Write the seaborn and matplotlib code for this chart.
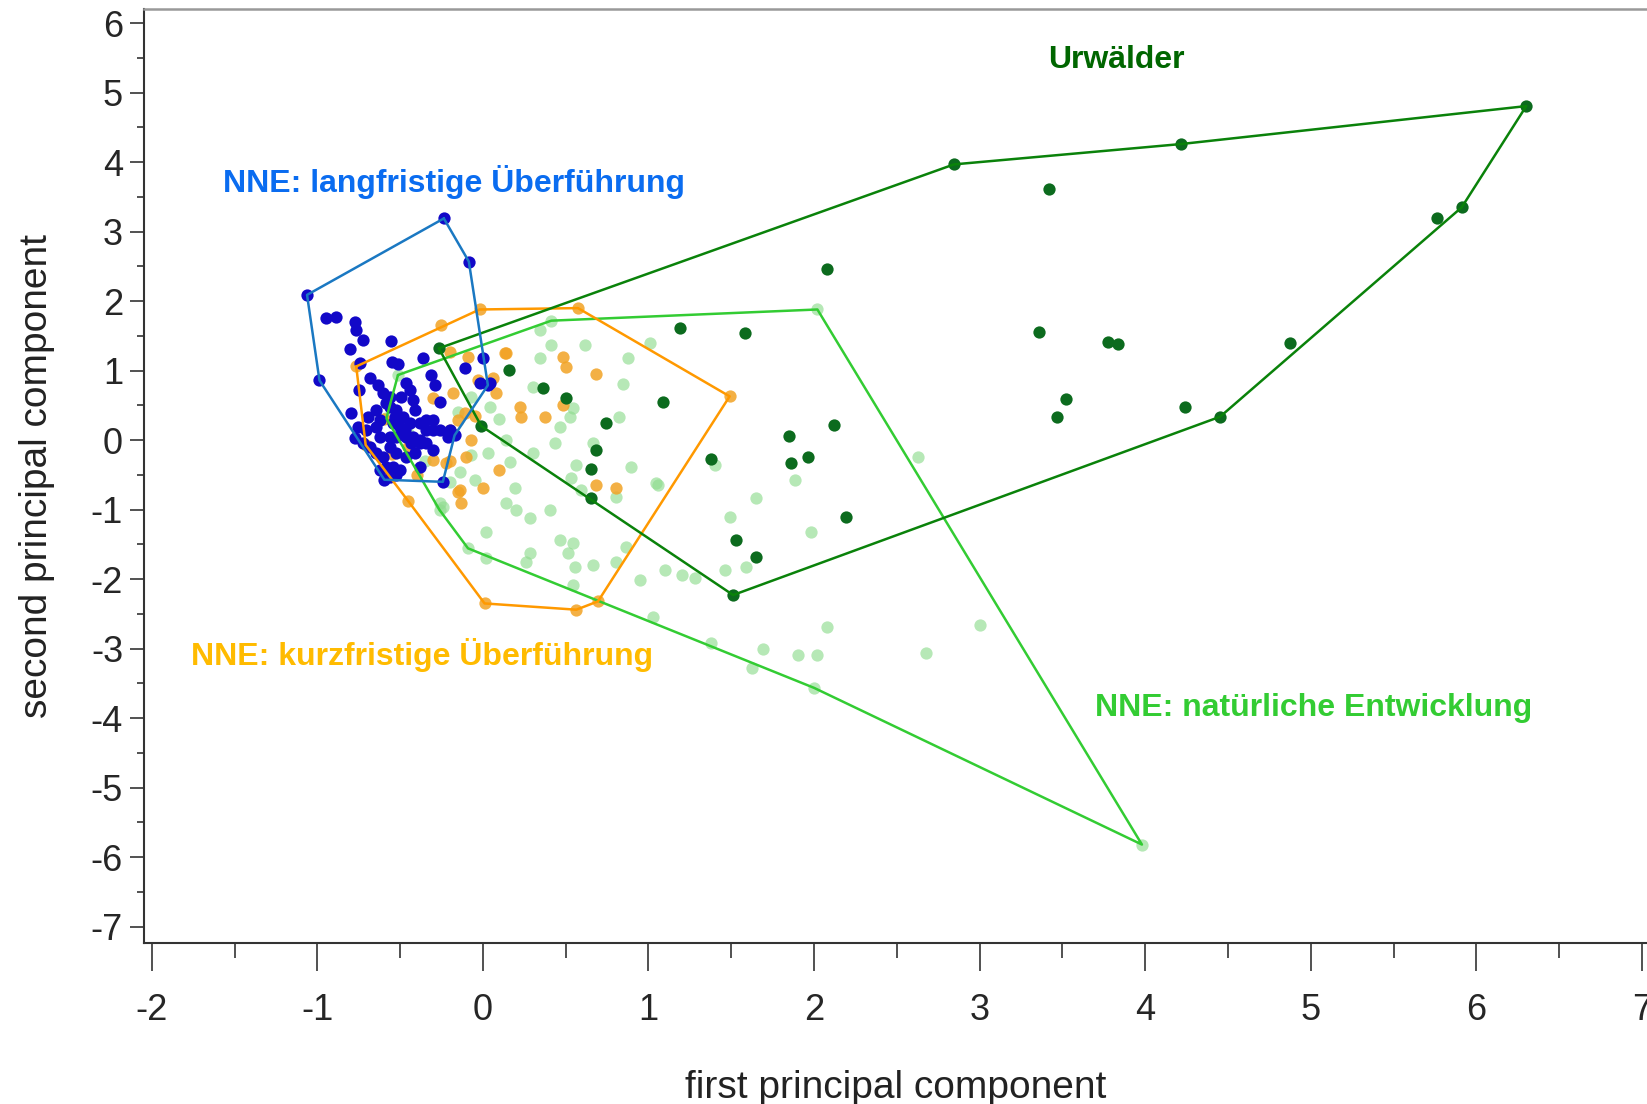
import numpy as np
import pandas as pd
import matplotlib
matplotlib.use("Agg")
import matplotlib.pyplot as plt
from matplotlib.ticker import MultipleLocator
import seaborn as sns

# NNE: langfristige Überführung (blau)
blue_x = [-0.946, -0.886, -0.775, -0.769, -0.724, -0.805, -0.553, -0.547, -0.513, -0.745,
          -0.362, -0.11, 0.0, -0.312, -0.291, -0.02, 0.041, -0.749, -0.684, -0.634,
          -0.604, -0.563, -0.463, -0.443, -0.422, -0.412, -0.795, -0.694, -0.644, -0.563,
          -0.523, -0.483, -0.543, -0.503, -0.443, -0.382, -0.342, -0.301, -0.261, -0.755,
          -0.704, -0.644, -0.624, -0.563, -0.523, -0.463, -0.422, -0.382, -0.342, -0.301,
          -0.2, -0.775, -0.684, -0.644, -0.604, -0.583, -0.543, -0.503, -0.463, -0.412,
          -0.382, -0.301, -0.624, -0.563, -0.523, -0.382, -0.583, -0.533, -0.473, -0.432,
          -0.523, -0.563, -0.493, -0.624, -0.724, -0.342, -0.261, -0.211]
blue_y = [1.752, 1.776, 1.704, 1.585, 1.441, 1.306, 1.426, 1.129, 1.095, 1.105,
          1.177, 1.033, 1.177, 0.937, 0.793, 0.827, 0.817, 0.721, 0.889, 0.793,
          0.673, 0.625, 0.817, 0.721, 0.577, 0.433, 0.385, 0.338, 0.433, 0.481,
          0.433, 0.338, 0.242, 0.194, 0.242, 0.242, 0.29, 0.29, 0.553, 0.194,
          0.146, 0.194, 0.05, 0.05, 0.05, 0.05, 0.05, 0.002, -0.046, 0.146,
          0.146, 0.026, -0.094, -0.19, -0.238, -0.382, -0.382, -0.43, -0.238, -0.19,
          -0.046, -0.142, -0.43, -0.526, -0.502, -0.382, 0.529, 0.338, 0.146, -0.046,
          -0.19, -0.094, 0.625, 0.29, -0.046, 0.146, 0.146, 0.05]
blue_hull_x = [-0.236, -0.085, 0.03, -0.171, -0.242, -0.595, -0.987, -1.062]
blue_hull_y = [3.19, 2.57, 0.79, 0.07, -0.60, -0.57, 0.86, 2.09]

# NNE: kurzfristige Überführung (orange)
orange_x = [-0.252, -0.201, -0.09, 0.131, 0.484, 0.504, 0.685, 0.06, 0.08, -0.181,
            0.222, 0.232, 0.373, 0.484, -0.11, -0.15, -0.07, -0.1, -0.302, -0.22,
            0.1, 0.0, -0.14, -0.13, 0.685, 0.806, -0.2, -0.03, 0.142, -0.15,
            -0.55, -0.4, -0.3, -0.2, -0.05, -0.6, -0.45]
orange_y = [1.657, 1.273, 1.2, 1.258, 1.201, 1.057, 0.951, 0.89, 0.673, 0.673,
            0.481, 0.338, 0.338, 0.505, 0.386, 0.29, 0.0, -0.238, -0.286, -0.33,
            -0.43, -0.69, -0.72, -0.91, -0.646, -0.69, 0.146, 0.865, 1.249, -0.75,
            -0.2, -0.5, 0.6, -0.3, 0.35, 0.3, -0.1]
orange_hull_x = [-0.765, -0.708, -0.45, 0.01, 0.564, 0.695, 1.49, 0.574, -0.02]
orange_hull_y = [1.06, -0.07, -0.88, -2.35, -2.44, -2.32, 0.63, 1.90, 1.88]

# NNE: natürliche Entwicklung (hellgrün)
lgreen_x = [0.343, 0.413, 0.614, 0.343, 0.876, 1.007, 0.846, 0.302, -0.07, 0.04,
            0.464, 0.524, 0.544, 0.433, 0.141, 0.302, -0.07, 0.03, 0.161, -0.141,
            -0.05, 0.564, 0.534, 0.665, 0.897, 1.048, 0.191, 0.141, 0.2, 0.282,
            0.403, 0.806, 0.594, 0.02, 0.464, 0.544, 0.514, 0.282, 0.262, 0.554,
            0.665, 0.806, 0.866, 0.947, 1.098, 1.2, 1.279, 1.46, 1.49, 1.591,
            1.648, 1.883, 0.544, 1.028, 0.02, -0.26, -0.24, 1.4, 1.984, 2.628,
            1.38, 2.075, 3.0, 1.69, 1.623, 1.902, 2.017, 2.676, 1.057, 0.824,
            -0.35, -0.2, -0.45, -0.15, 0.1]
lgreen_y = [1.585, 1.369, 1.369, 1.177, 1.177, 1.393, 0.808, 0.769, 0.625, 0.481,
            0.194, 0.338, 0.458, -0.046, 0.0, -0.19, -0.214, -0.19, -0.31, -0.454,
            -0.574, -0.358, -0.55, -0.046, -0.382, -0.622, -0.694, -0.91, -1.005, -1.125,
            -1.005, -0.814, -0.718, -1.317, -1.437, -1.485, -1.629, -1.629, -1.749, -1.821,
            -1.797, -1.749, -1.533, -2.013, -1.869, -1.941, -1.989, -1.869, -1.101, -1.821,
            -0.838, -0.574, -2.085, -2.54, -1.7, -0.91, -0.96, -0.358, -1.318, -0.238,
            -2.924, -2.685, -2.66, -3.0, -3.278, -3.097, -3.097, -3.067, -0.646, 0.332,
            -0.3, -0.6, 0.1, 0.4, 0.3]
lgreen_hull_x = [-0.513, 0.413, 2.02, 3.98, 2.0, -0.09, -0.262, -0.583]
lgreen_hull_y = [0.937, 1.719, 1.88, -5.82, -3.565, -1.557, -1.005, 0.314]

# Urwälder (dunkelgrün)
dgreen_x = [0.157, 0.363, 0.504, 1.188, 1.581, 1.088, 0.745, 0.685, 0.655, 0.655,
            1.38, 1.849, 1.863, 1.964, 2.121, 2.195, 1.527, 1.648, 2.075, 5.764,
            3.42, 3.358, 3.773, 3.837, 4.873, 3.521, 3.469, 4.237]
dgreen_y = [1.009, 0.745, 0.601, 1.609, 1.537, 0.553, 0.242, -0.142, -0.42, -0.837,
            -0.276, 0.059, -0.324, -0.238, 0.217, -1.102, -1.437, -1.677, 2.457, 3.19,
            3.608, 1.56, 1.416, 1.383, 1.393, 0.591, 0.328, 0.472]
dgreen_hull_x = [-0.266, 2.845, 4.213, 6.301, 5.911, 4.452, 1.511, -0.01]
dgreen_hull_y = [1.321, 3.968, 4.26, 4.807, 3.35, 0.337, -2.229, 0.203]

sns.set_style("ticks")
plt.rcParams["font.family"] = ["Liberation Sans", "DejaVu Sans"]
plt.rcParams["axes.unicode_minus"] = False

fig = plt.figure(figsize=(16.47, 11.04), dpi=100)
ax = fig.add_axes([0.0874, 0.1456, 0.9126, 0.846])

groups = [
    (lgreen_x, lgreen_y, lgreen_hull_x, lgreen_hull_y, "#8fdc8f", 0.65, "#33cc33"),
    (orange_x, orange_y, orange_hull_x, orange_hull_y, "#f2a324", 0.85, "#ff9900"),
    (dgreen_x, dgreen_y, dgreen_hull_x, dgreen_hull_y, "#0c6b1e", 1.0, "#0a820a"),
    (blue_x, blue_y, blue_hull_x, blue_hull_y, "#1208c8", 1.0, "#1a78c2"),
]

# punkte
for px, py, hx, hy, col, a, lcol in groups:
    df = pd.DataFrame({"x": px + hx, "y": py + hy})
    sns.scatterplot(data=df, x="x", y="y", color=col, alpha=a, s=78,
                    linewidth=0, ax=ax, legend=False)

# umrisse
for px, py, hx, hy, col, a, lcol in groups:
    sns.lineplot(x=hx + hx[:1], y=hy + hy[:1], sort=False, estimator=None,
                 color=lcol, lw=1.8, ax=ax)

ax.text(-0.174, 3.72, "NNE: langfristige Überführung", color="#0a6cf0",
        fontsize=23, fontweight="bold", ha="center", va="center")
ax.text(3.823, 5.47, "Urwälder", color="#006600",
        fontsize=23, fontweight="bold", ha="center", va="center")
ax.text(-0.366, -3.09, "NNE: kurzfristige Überführung", color="#ffbb00",
        fontsize=23, fontweight="bold", ha="center", va="center")
ax.text(5.015, -3.85, "NNE: natürliche Entwicklung", color="#33cc33",
        fontsize=23, fontweight="bold", ha="center", va="center")

ax.set_xlim(-2.047, 7.03)
ax.set_ylim(-7.24, 6.20)
ax.xaxis.set_major_locator(MultipleLocator(1))
ax.xaxis.set_minor_locator(MultipleLocator(0.5))
ax.yaxis.set_major_locator(MultipleLocator(1))
ax.yaxis.set_minor_locator(MultipleLocator(0.5))

ax.tick_params(axis="x", which="major", length=20, width=1.2, pad=16,
               labelsize=26, color="#333333", direction="out")
ax.tick_params(axis="x", which="minor", length=11, width=1.2, color="#333333", direction="out")
ax.tick_params(axis="y", which="major", length=10, width=1.2, pad=5,
               labelsize=26, color="#333333", direction="out")
ax.tick_params(axis="y", which="minor", length=5, width=1.2, color="#333333", direction="out")

ax.set_xlabel("first principal component", fontsize=28, labelpad=30, color="#222222")
ax.set_ylabel("second principal component", fontsize=28, labelpad=26, color="#222222")

ax.spines["right"].set_visible(False)
ax.spines["top"].set_color("#999999")
ax.spines["top"].set_linewidth(1.8)
for s in ["left", "bottom"]:
    ax.spines[s].set_color("#333333")
    ax.spines[s].set_linewidth(1.5)

fig.savefig("out.png", dpi=100)
